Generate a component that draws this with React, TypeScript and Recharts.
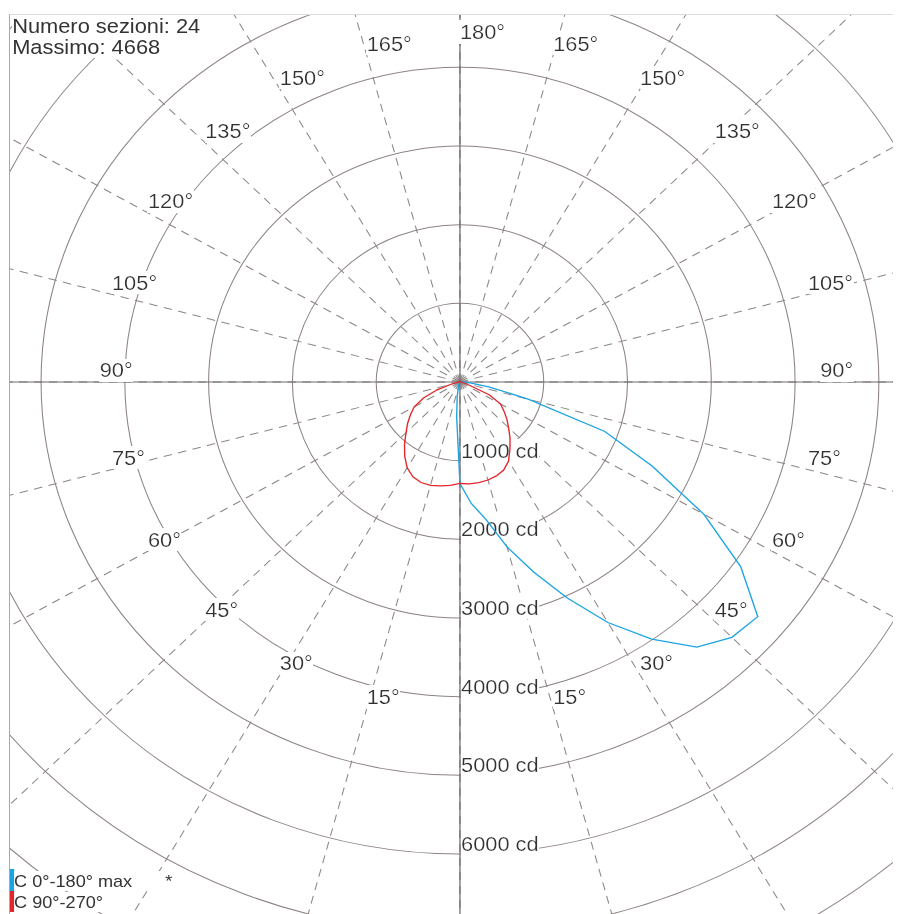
import { RadarChart, Radar, PolarGrid, PolarAngleAxis, PolarRadiusAxis } from "recharts"

// gamma (degrees from nadir) for every sample
const gammas = [
  0, 5, 10, 15, 20, 25, 30, 35, 40, 45, 50, 55, 60, 65, 70, 75, 80, 85, 90,
  95, 100, 105, 110, 115, 120, 125, 130, 135, 140, 145, 150, 155, 160, 165, 170, 175, 180,
]

// intensities in cd
const c0 = [
  1290, 1550, 1770, 2170, 2570, 3030, 3530, 3990, 4400, 4590, 4640, 4090, 3360, 2530, 1840, 850, 350, 120, 40,
  20, 15, 12, 10, 10, 10, 10, 10, 10, 10, 10, 10, 10, 10, 10, 10, 10, 10,
]
const c180 = [
  1290, 450, 190, 80, 40, 25, 20, 15, 12, 10, 10, 10, 10, 10, 10, 10, 10, 10, 10,
  10, 10, 10, 10, 10, 10, 10, 10, 10, 10, 10, 10, 10, 10, 10, 10, 10, 10,
]
const c90 = [
  1290, 1300, 1300, 1290, 1270, 1235, 1160, 1040, 930, 820, 730, 640, 560, 390, 120, 50, 30, 15, 10,
  10, 10, 10, 10, 10, 10, 10, 10, 10, 10, 10, 10, 10, 10, 10, 10, 10, 10,
]
const c270 = [
  1290, 1320, 1340, 1360, 1360, 1330, 1260, 1150, 1030, 910, 815, 720, 630, 480, 290, 110, 40, 20, 10,
  10, 10, 10, 10, 10, 10, 10, 10, 10, 10, 10, 10, 10, 10, 10, 10, 10, 10,
]

const angleTicks = [0, 15, 30, 45, 60, 75, 90, 105, 120, 135, 150, 165, 180, 195, 210, 225, 240, 255, 270, 285, 300, 315, 330, 345]
const radiusTicks = [1000, 2000, 3000, 4000, 5000, 6000, 7000, 8000, 9000]

const sections = 24
const maxValue = 4668

// right half is gamma 0..180, left half runs back down 175..5
const rows = [
  ...gammas.map((g, i) => ({ angle: g, blue: c0[i], red: c90[i] })),
  ...gammas
    .slice(1, -1)
    .reverse()
    .map((g) => {
      const i = gammas.indexOf(g)
      return { angle: 360 - g, blue: c180[i], red: c270[i] }
    }),
]

const FONT = '"Liberation Sans", Arial, Helvetica, sans-serif'
const BLUE = "#1ca4e2"
const RED = "#e3262b"
const STRETCH = 1.065
const W = 840
const H = 900
const CX = 422.5
const CY = 367
const START = -90
const MAX_CD = 9000
const OUTER = 708
const LABEL_CD = 4300

function AngleTick(props: any) {
  const { payload } = props
  const v = payload.value
  if (v === 0) return <g />
  const g = v <= 180 ? v : 360 - v
  const r = (LABEL_CD / MAX_CD) * OUTER
  const rad = (-payload.coordinate * Math.PI) / 180
  const x = CX + Math.cos(rad) * r
  const y = CY + Math.sin(rad) * r
  return (
    <text x={x} y={y - 4.5} fontSize={20.5} fontFamily={FONT} fill="#333" filter="url(#lblbg)">
      {g}°
    </text>
  )
}

function RadiusTick(props: any) {
  const { x, y, payload } = props
  if (y + 2 > H) return <g />
  return (
    <text x={x + 1} y={y - 3} fontSize={20.5} fontFamily={FONT} fill="#333" filter="url(#lblbg)">
      {payload.value} cd
    </text>
  )
}

export default function App() {
  const crossAngles = angleTicks.filter((t) => t % 90 === 0).map((t) => START + t)
  return (
    <div style={{ position: "relative", width: 893, height: 906, overflow: "hidden", fontFamily: FONT }}>
      <svg width={0} height={0} style={{ position: "absolute" }}>
        <defs>
          <filter id="lblbg" x="0" y="0" width="1" height="1">
            <feFlood floodColor="#ffffff" result="bg" />
            <feComposite in="SourceGraphic" in2="bg" operator="over" />
          </filter>
        </defs>
      </svg>
      <div
        style={{
          position: "absolute",
          left: 1,
          top: 6,
          width: 892,
          height: 900,
          borderTop: "1px solid #dcdcdc",
          borderLeft: "1px solid #a8a8a8",
          overflow: "hidden",
        }}
      >
        <div style={{ position: "relative", width: W, height: H, transform: `scaleX(${STRETCH})`, transformOrigin: "0 0" }}>
          <RadarChart
            width={W}
            height={H}
            cx={CX}
            cy={CY}
            innerRadius={0}
            outerRadius={OUTER}
            startAngle={START}
            endAngle={START + 360}
            data={rows}
            margin={{ top: 0, right: 0, bottom: 0, left: 0 }}
          >
            <PolarGrid gridType="circle" radialLines={false} stroke="#8e8383" strokeWidth={1} />
            <PolarGrid gridType="circle" polarRadius={[]} stroke="#8e8686" strokeDasharray="8 6" strokeWidth={1} />
            <PolarGrid gridType="circle" polarRadius={[]} polarAngles={crossAngles} stroke="#6f6a6a" strokeWidth={1.2} />
            <PolarAngleAxis
              dataKey="angle"
              type="number"
              domain={[0, 360]}
              ticks={angleTicks}
              axisLine={false}
              tickLine={false}
              tick={(p: any) => <AngleTick {...p} />}
            />
            <PolarRadiusAxis
              angle={START}
              type="number"
              domain={[0, MAX_CD]}
              ticks={radiusTicks}
              axisLine={false}
              tickLine={false}
              tick={(p: any) => <RadiusTick {...p} />}
            />
            <Radar dataKey="blue" stroke={BLUE} strokeWidth={1.3} fill="none" fillOpacity={0} dot={false} isAnimationActive={false} zIndex={600} />
            <Radar dataKey="red" stroke={RED} strokeWidth={1.3} fill="none" fillOpacity={0} dot={false} isAnimationActive={false} zIndex={610} />
          </RadarChart>

          <div style={{ position: "absolute", left: 2, top: 0, fontSize: 20.5, lineHeight: "21px", color: "#333" }}>
            <div>
              <span style={{ background: "#fff" }}>Numero sezioni: {sections}</span>
            </div>
            <div>
              <span style={{ background: "#fff" }}>Massimo: {maxValue}</span>
            </div>
          </div>

          <div style={{ position: "absolute", left: 0, top: 854, fontSize: 17, color: "#333" }}>
            <div style={{ display: "flex", height: 21.7 }}>
              <div style={{ width: 3.8, height: 21.7, background: BLUE }} />
              <span style={{ background: "#fff", lineHeight: "21.7px", position: "relative", top: 1.6, height: 20, whiteSpace: "pre" }}>
                C 0°-180° max<span style={{ display: "inline-block", width: 31 }} />*
              </span>
            </div>
            <div style={{ display: "flex", height: 21.7 }}>
              <div style={{ width: 3.8, height: 21.7, background: RED }} />
              <span style={{ background: "#fff", lineHeight: "21.7px", position: "relative", top: 1.6, height: 20 }}>
                C 90°-270°
              </span>
            </div>
          </div>
        </div>
      </div>
    </div>
  )
}
